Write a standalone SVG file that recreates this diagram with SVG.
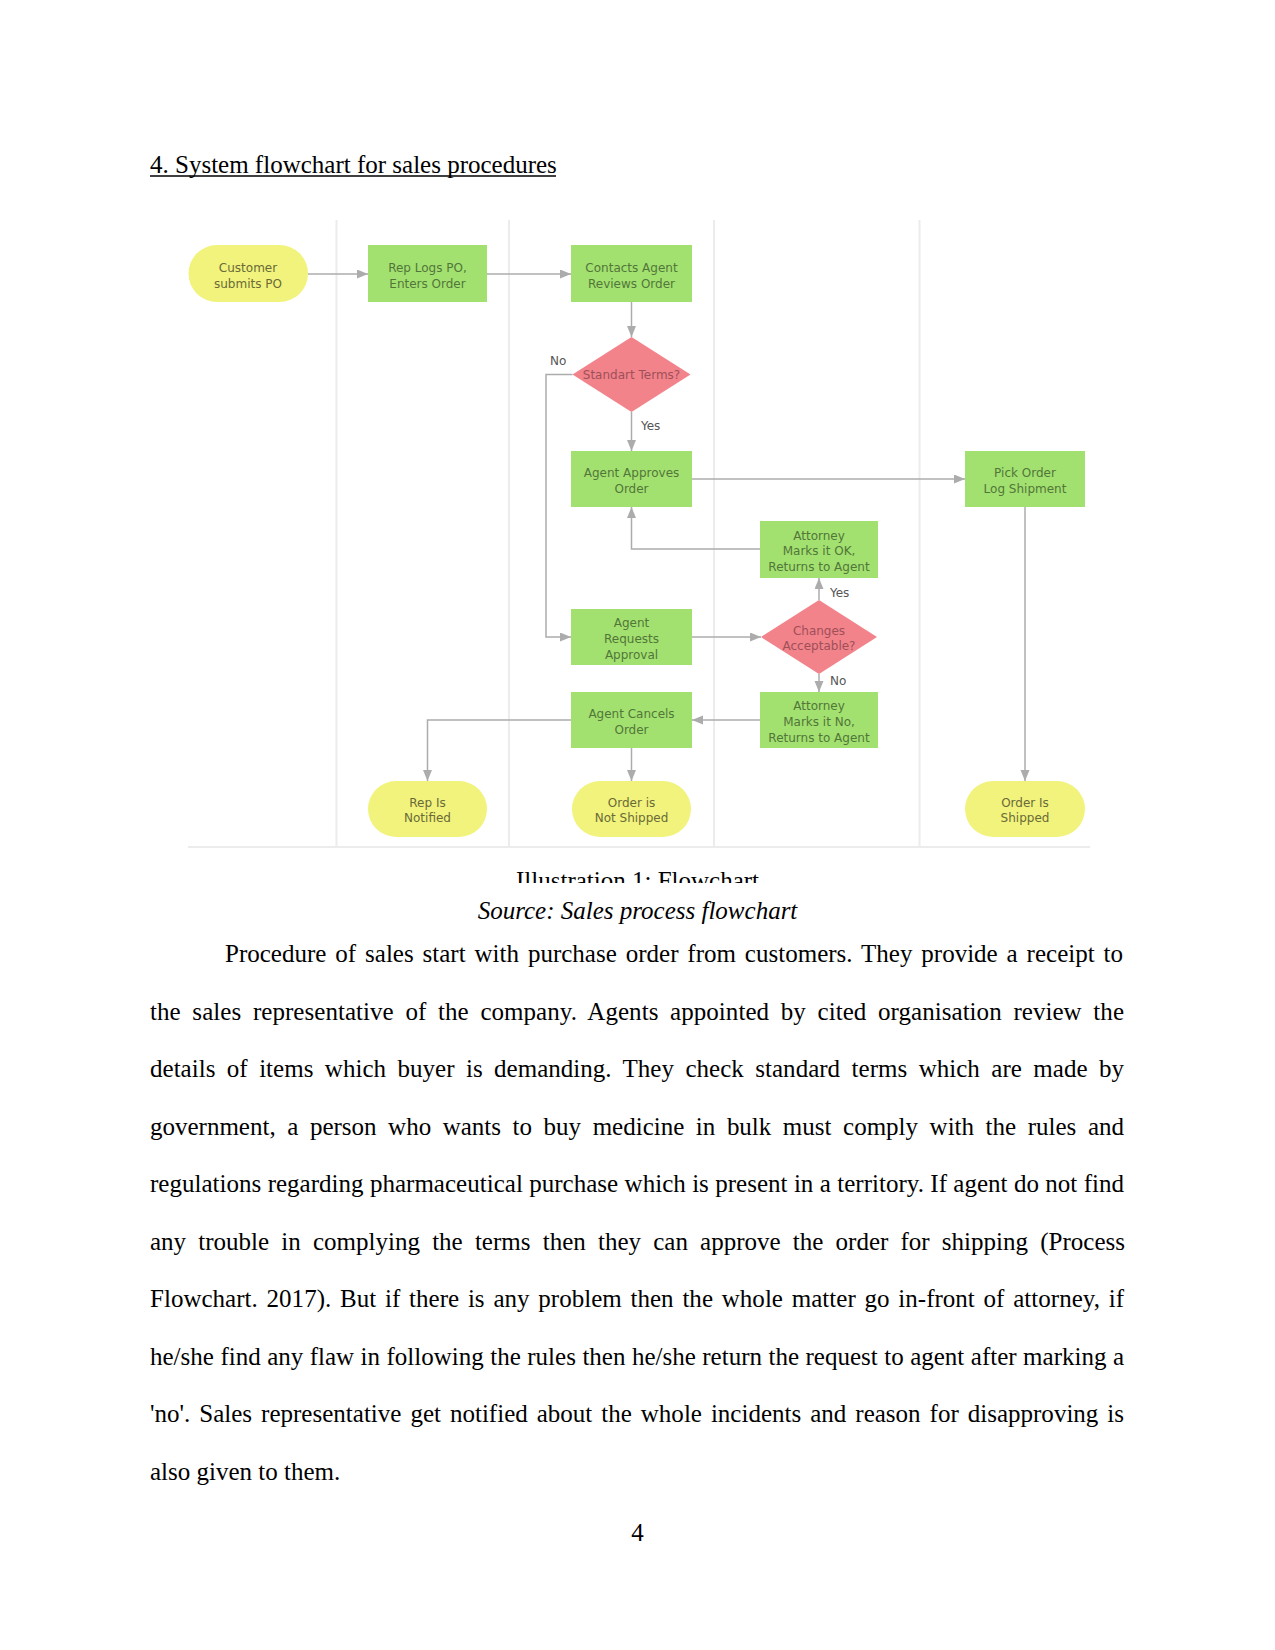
<svg xmlns="http://www.w3.org/2000/svg" width="1275" height="1650" viewBox="0 0 1275 1650">
<defs>
<style>
.pg{font-family:"Liberation Serif","Times New Roman",serif;font-size:25px;fill:#000}
.it{font-style:italic}
.lane{stroke:#ececec;stroke-width:2;fill:none}
.proc{fill:#a2e16f}
.term{fill:#f1f37c}
.dec{fill:#f2838b}
.t{font-family:"DejaVu Sans",Verdana,sans-serif;font-size:12px;text-anchor:middle}
.tp{fill:#52763a}
.tt{fill:#6a6a38}
.td{fill:#a04f58}
.lbl{font-family:"DejaVu Sans",Verdana,sans-serif;font-size:12px;fill:#555}
.c{stroke:#acacac;stroke-width:1.5;fill:none;marker-end:url(#ah)}
</style>
<marker id="ah" markerUnits="userSpaceOnUse" markerWidth="12" markerHeight="10" refX="11" refY="4.5" orient="auto">
<path d="M0,0 L11,4.5 L0,9 z" fill="#acacac"/>
</marker>
<clipPath id="capclip"><rect x="400" y="850" width="500" height="33"/></clipPath>
</defs>

<g id="heading">
<text class="pg" x="150" y="173">4. System flowchart for sales procedures</text>
<line x1="150" y1="176" x2="556" y2="176" stroke="#000" stroke-width="1.3"/>
</g>

<g id="lanes">
<line class="lane" x1="336.5" y1="220" x2="336.5" y2="847"/>
<line class="lane" x1="509" y1="220" x2="509" y2="847"/>
<line class="lane" x1="714" y1="220" x2="714" y2="847"/>
<line class="lane" x1="919.5" y1="220" x2="919.5" y2="847"/>
<line class="lane" x1="188" y1="847" x2="1090" y2="847"/>
</g>

<g id="connectors">
<path class="c" d="M308,274 L368,274"/>
<path class="c" d="M487,274 L571,274"/>
<path class="c" d="M631.5,302 L631.5,337"/>
<path class="c" d="M631.5,412 L631.5,451"/>
<path class="c" d="M572.5,374.5 L546,374.5 L546,637 L571,637"/>
<path class="c" d="M692,479 L965,479"/>
<path class="c" d="M760,549 L631.5,549 L631.5,507"/>
<path class="c" d="M819,600 L819,578"/>
<path class="c" d="M692,637 L761,637"/>
<path class="c" d="M819,674 L819,692"/>
<path class="c" d="M760,720 L692,720"/>
<path class="c" d="M571,720 L427.5,720 L427.5,781"/>
<path class="c" d="M631.5,748 L631.5,781"/>
<path class="c" d="M1025,507 L1025,781"/>
<text class="lbl" x="550" y="365">No</text>
<text class="lbl" x="641" y="429.5">Yes</text>
<text class="lbl" x="830" y="596.5">Yes</text>
<text class="lbl" x="830" y="684.5">No</text>
</g>

<g id="customer">
<rect class="term" x="188.5" y="245" width="119.5" height="57" rx="28.5"/>
<text class="t tt" x="248" y="272">Customer</text>
<text class="t tt" x="248" y="288">submits PO</text>
</g>
<g id="rep-logs">
<rect class="proc" x="368" y="245" width="119" height="57"/>
<text class="t tp" x="427.5" y="272">Rep Logs PO,</text>
<text class="t tp" x="427.5" y="288">Enters Order</text>
</g>
<g id="contacts-agent">
<rect class="proc" x="571" y="245" width="121" height="57"/>
<text class="t tp" x="631.5" y="272">Contacts Agent</text>
<text class="t tp" x="631.5" y="288">Reviews Order</text>
</g>
<g id="standart-terms">
<polygon class="dec" points="631.5,337 690.5,374.5 631.5,412 572.5,374.5"/>
<text class="t td" x="631.5" y="379">Standart Terms?</text>
</g>
<g id="agent-approves">
<rect class="proc" x="571" y="451" width="121" height="56"/>
<text class="t tp" x="631.5" y="477">Agent Approves</text>
<text class="t tp" x="631.5" y="493">Order</text>
</g>
<g id="pick-order">
<rect class="proc" x="965" y="451" width="120" height="56"/>
<text class="t tp" x="1025" y="477">Pick Order</text>
<text class="t tp" x="1025" y="493">Log Shipment</text>
</g>
<g id="attorney-ok">
<rect class="proc" x="760" y="521" width="118" height="57"/>
<text class="t tp" x="819" y="539.5">Attorney</text>
<text class="t tp" x="819" y="555">Marks it OK,</text>
<text class="t tp" x="819" y="570.5">Returns to Agent</text>
</g>
<g id="agent-requests">
<rect class="proc" x="571" y="609" width="121" height="56"/>
<text class="t tp" x="631.5" y="627">Agent</text>
<text class="t tp" x="631.5" y="643">Requests</text>
<text class="t tp" x="631.5" y="659">Approval</text>
</g>
<g id="changes-acceptable">
<polygon class="dec" points="819,600 877,637 819,674 761,637"/>
<text class="t td" x="819" y="634.5">Changes</text>
<text class="t td" x="819" y="650">Acceptable?</text>
</g>
<g id="attorney-no">
<rect class="proc" x="760" y="692" width="118" height="56"/>
<text class="t tp" x="819" y="710">Attorney</text>
<text class="t tp" x="819" y="726">Marks it No,</text>
<text class="t tp" x="819" y="741.5">Returns to Agent</text>
</g>
<g id="agent-cancels">
<rect class="proc" x="571" y="692" width="121" height="56"/>
<text class="t tp" x="631.5" y="718">Agent Cancels</text>
<text class="t tp" x="631.5" y="734">Order</text>
</g>
<g id="rep-notified">
<rect class="term" x="368" y="781" width="119" height="56" rx="28"/>
<text class="t tt" x="427.5" y="807">Rep Is</text>
<text class="t tt" x="427.5" y="822">Notified</text>
</g>
<g id="not-shipped">
<rect class="term" x="572" y="781" width="119" height="56" rx="28"/>
<text class="t tt" x="631.5" y="807">Order is</text>
<text class="t tt" x="631.5" y="822">Not Shipped</text>
</g>
<g id="shipped">
<rect class="term" x="965" y="781" width="120" height="56" rx="28"/>
<text class="t tt" x="1025" y="807">Order Is</text>
<text class="t tt" x="1025" y="822">Shipped</text>
</g>

<g id="caption">
<text class="pg" x="637.5" y="888.5" text-anchor="middle" clip-path="url(#capclip)">Illustration 1: Flowchart</text>
<text class="pg it" x="637.5" y="919" text-anchor="middle">Source: Sales process flowchart</text>
</g>

<g id="body">
<text class="pg" x="225" y="962" word-spacing="2.6" textLength="898" lengthAdjust="spacing">Procedure of sales start with purchase order from customers. They provide a receipt to</text>
<text class="pg" x="150" y="1019.5" word-spacing="5.4" textLength="974" lengthAdjust="spacing">the sales representative of the company. Agents appointed by cited organisation review the</text>
<text class="pg" x="150" y="1077" word-spacing="5.2" textLength="974" lengthAdjust="spacing">details of items which buyer is demanding. They check standard terms which are made by</text>
<text class="pg" x="150" y="1134.5" word-spacing="5.3" textLength="974" lengthAdjust="spacing">government, a person who wants to buy medicine in bulk must comply with the rules and</text>
<text class="pg" x="150" y="1192" word-spacing="0.1" textLength="974" lengthAdjust="spacing">regulations regarding pharmaceutical purchase which is present in a territory. If agent do not find</text>
<text class="pg" x="150" y="1249.5" word-spacing="5.9" textLength="975" lengthAdjust="spacing">any trouble in complying the terms then they can approve the order for shipping (Process</text>
<text class="pg" x="150" y="1307" word-spacing="2.5" textLength="974" lengthAdjust="spacing">Flowchart. 2017). But if there is any problem then the whole matter go in-front of attorney, if</text>
<text class="pg" x="150" y="1364.5" word-spacing="0.2" textLength="974" lengthAdjust="spacing">he/she find any flaw in following the rules then he/she return the request to agent after marking a</text>
<text class="pg" x="150" y="1422" word-spacing="2.7" textLength="974" lengthAdjust="spacing">'no'. Sales representative get notified about the whole incidents and reason for disapproving is</text>
<text class="pg" x="150" y="1479.5">also given to them.</text>
</g>

<g id="page-number">
<text class="pg" x="637.5" y="1541" text-anchor="middle">4</text>
</g>
</svg>
